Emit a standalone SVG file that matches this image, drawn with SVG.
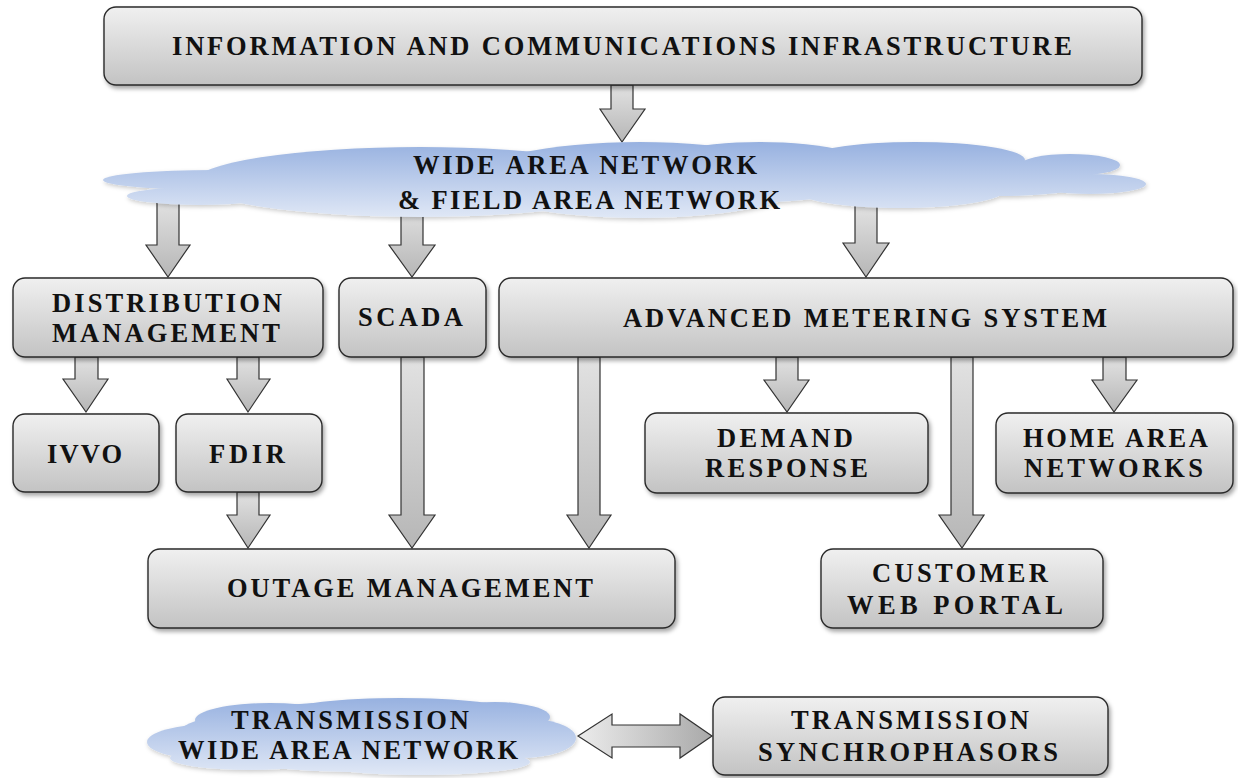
<svg xmlns="http://www.w3.org/2000/svg" width="1238" height="778" viewBox="0 0 1238 778">
<defs>
<linearGradient id="boxg" x1="0" y1="0" x2="0" y2="1">
<stop offset="0" stop-color="#f0f0f0"/>
<stop offset="1" stop-color="#c3c3c3"/>
</linearGradient>
<linearGradient id="arrg" x1="0" y1="0" x2="0" y2="1">
<stop offset="0" stop-color="#e2e2e2"/>
<stop offset="1" stop-color="#b6b6b6"/>
</linearGradient>
<linearGradient id="harrg" x1="0" y1="0" x2="1" y2="0">
<stop offset="0" stop-color="#ececec"/>
<stop offset="1" stop-color="#a9a9a9"/>
</linearGradient>
<linearGradient id="cloud1g" gradientUnits="userSpaceOnUse" x1="0" y1="142" x2="0" y2="218">
<stop offset="0" stop-color="#97b1e0"/>
<stop offset="1" stop-color="#e0e8f6"/>
</linearGradient>
<linearGradient id="cloud2g" gradientUnits="userSpaceOnUse" x1="0" y1="698" x2="0" y2="775">
<stop offset="0" stop-color="#97b1e0"/>
<stop offset="1" stop-color="#e0e8f6"/>
</linearGradient>
<filter id="sh" x="-5%" y="-10%" width="110%" height="130%">
<feDropShadow dx="2" dy="3" stdDeviation="2" flood-color="#000" flood-opacity="0.35"/>
</filter>
<filter id="csh" x="-5%" y="-20%" width="110%" height="150%">
<feDropShadow dx="1" dy="2" stdDeviation="2" flood-color="#000" flood-opacity="0.2"/>
</filter>
</defs>
<style>
.box{fill:url(#boxg);stroke:#2a2a2a;stroke-width:1.4;filter:url(#sh)}
.arr{fill:url(#arrg);stroke:#333;stroke-width:1.2;stroke-linejoin:miter}
.harr{fill:url(#harrg);stroke:#333;stroke-width:1.2}
.lbl{font-family:"Liberation Serif","Times New Roman",serif;font-weight:bold;font-size:26.5px;fill:#111}
</style>
<rect width="1238" height="778" fill="#ffffff"/>

<g id="connectors">
<path class="arr" d="M611,85 L633,85 L633,109 L645,109 L622,142 L600,109 L611,109 Z"/>
<path class="arr" d="M157,200 L179,200 L179,245 L190,245 L168,277 L146,245 L157,245 Z"/>
<path class="arr" d="M401,205 L423,205 L423,245 L435,245 L412,277 L389,245 L401,245 Z"/>
<path class="arr" d="M855,205 L877,205 L877,243 L889,243 L866,277 L843,243 L855,243 Z"/>
<path class="arr" d="M75,357 L98,357 L98,379 L108,379 L86,412 L63,379 L75,379 Z"/>
<path class="arr" d="M237,357 L259,357 L259,379 L270,379 L248,412 L227,379 L237,379 Z"/>
<path class="arr" d="M401,357 L424,357 L424,515 L435,515 L412,548 L389,515 L401,515 Z"/>
<path class="arr" d="M578,357 L600,357 L600,515 L611,515 L589,548 L567,515 L578,515 Z"/>
<path class="arr" d="M776,357 L798,357 L798,380 L809,380 L787,412 L764,380 L776,380 Z"/>
<path class="arr" d="M951,357 L973,357 L973,515 L984,515 L962,548 L939,515 L951,515 Z"/>
<path class="arr" d="M1103,357 L1126,357 L1126,380 L1137,380 L1114,412 L1092,380 L1103,380 Z"/>
<path class="arr" d="M237,492 L259,492 L259,515 L270,515 L248,548 L227,515 L237,515 Z"/>
<path class="harr" d="M578,736 L612,714 L612,725 L680,725 L680,714 L712,736 L680,758 L680,747 L612,747 L612,758 Z"/>
</g>

<g id="ict">
<rect class="box" x="104" y="7" width="1038" height="78" rx="12"/>
<text class="lbl" x="172" y="55" textLength="900" lengthAdjust="spacing">INFORMATION AND COMMUNICATIONS INFRASTRUCTURE</text>
</g>

<g id="wan-fan">
<g fill="url(#cloud1g)" filter="url(#csh)">
<ellipse cx="215" cy="180" rx="112" ry="10"/>
<ellipse cx="200" cy="196" rx="73" ry="9"/>
<ellipse cx="420" cy="182" rx="225" ry="35"/>
<ellipse cx="640" cy="180" rx="170" ry="38"/>
<ellipse cx="915" cy="160" rx="110" ry="18"/>
<ellipse cx="1070" cy="165" rx="50" ry="11"/>
<ellipse cx="1090" cy="184" rx="56" ry="10"/>
<ellipse cx="900" cy="190" rx="105" ry="18"/>
<ellipse cx="1000" cy="180" rx="100" ry="16"/>
<ellipse cx="760" cy="172" rx="120" ry="30"/>
</g>
<text class="lbl" x="413" y="174" textLength="344" lengthAdjust="spacing">WIDE AREA NETWORK</text>
<text class="lbl" x="398" y="209" textLength="382" lengthAdjust="spacing">&amp; FIELD AREA NETWORK</text>
</g>

<g id="distribution-management">
<rect class="box" x="13" y="278" width="310" height="79" rx="12"/>
<text class="lbl" x="52" y="312" textLength="230" lengthAdjust="spacing">DISTRIBUTION</text>
<text class="lbl" x="52" y="342" textLength="228" lengthAdjust="spacing">MANAGEMENT</text>
</g>

<g id="scada">
<rect class="box" x="339" y="278" width="147" height="79" rx="12"/>
<text class="lbl" x="358" y="326" textLength="105" lengthAdjust="spacing">SCADA</text>
</g>

<g id="ams">
<rect class="box" x="499" y="278" width="734" height="79" rx="12"/>
<text class="lbl" x="623" y="327" textLength="484" lengthAdjust="spacing">ADVANCED METERING SYSTEM</text>
</g>

<g id="ivvo">
<rect class="box" x="13" y="414" width="146" height="78" rx="12"/>
<text class="lbl" x="47" y="463" textLength="75" lengthAdjust="spacing">IVVO</text>
</g>

<g id="fdir">
<rect class="box" x="176" y="414" width="146" height="78" rx="12"/>
<text class="lbl" x="209" y="463" textLength="76" lengthAdjust="spacing">FDIR</text>
</g>

<g id="demand-response">
<rect class="box" x="645" y="413" width="283" height="80" rx="12"/>
<text class="lbl" x="717" y="447" textLength="136" lengthAdjust="spacing">DEMAND</text>
<text class="lbl" x="705" y="477" textLength="163" lengthAdjust="spacing">RESPONSE</text>
</g>

<g id="home-area-networks">
<rect class="box" x="996" y="413" width="237" height="80" rx="12"/>
<text class="lbl" x="1023" y="447" textLength="185" lengthAdjust="spacing">HOME AREA</text>
<text class="lbl" x="1024" y="477" textLength="179" lengthAdjust="spacing">NETWORKS</text>
</g>

<g id="outage-management">
<rect class="box" x="148" y="549" width="527" height="79" rx="12"/>
<text class="lbl" x="227" y="597" textLength="366" lengthAdjust="spacing">OUTAGE MANAGEMENT</text>
</g>

<g id="customer-web-portal">
<rect class="box" x="821" y="549" width="282" height="79" rx="12"/>
<text class="lbl" x="872" y="582" textLength="176" lengthAdjust="spacing">CUSTOMER</text>
<text class="lbl" x="847" y="614" textLength="216" lengthAdjust="spacing">WEB PORTAL</text>
</g>

<g id="transmission-wan">
<g fill="url(#cloud2g)" filter="url(#csh)">
<ellipse cx="360" cy="737" rx="185" ry="35"/>
<ellipse cx="215" cy="742" rx="68" ry="18"/>
<ellipse cx="520" cy="738" rx="56" ry="20"/>
<ellipse cx="270" cy="720" rx="75" ry="17"/>
<ellipse cx="400" cy="711" rx="110" ry="13"/>
<ellipse cx="495" cy="717" rx="55" ry="15"/>
<ellipse cx="420" cy="762" rx="110" ry="13"/>
<ellipse cx="250" cy="758" rx="80" ry="12"/>
</g>
<text class="lbl" x="231" y="729" textLength="238" lengthAdjust="spacing">TRANSMISSION</text>
<text class="lbl" x="178" y="759" textLength="340" lengthAdjust="spacing">WIDE AREA NETWORK</text>
</g>

<g id="transmission-synchrophasors">
<rect class="box" x="713" y="697" width="395" height="78" rx="12"/>
<text class="lbl" x="791" y="729" textLength="238" lengthAdjust="spacing">TRANSMISSION</text>
<text class="lbl" x="758" y="761" textLength="300" lengthAdjust="spacing">SYNCHROPHASORS</text>
</g>
</svg>
